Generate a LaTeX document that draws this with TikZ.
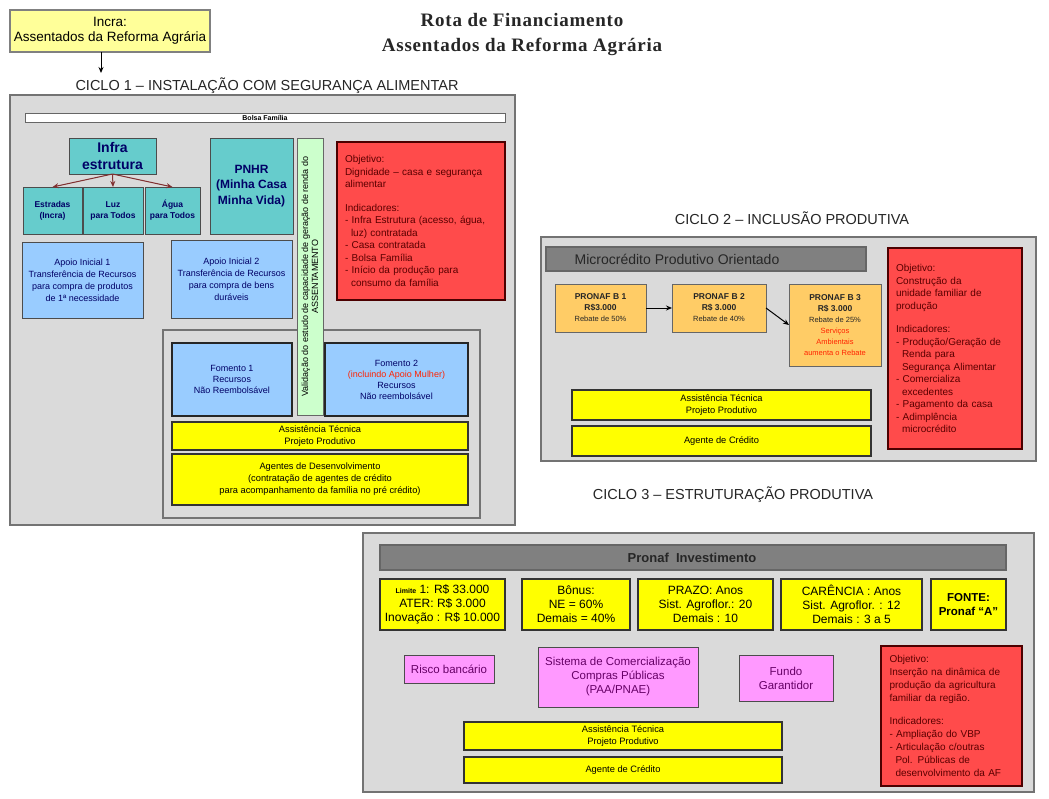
\documentclass[tikz,border=0pt]{standalone}
\usepackage{fontspec}
\setmainfont{Liberation Sans}
\newfontfamily\titlefont[LetterSpace=4]{Liberation Serif}
\usetikzlibrary{arrows.meta}
\definecolor{panelgray}{HTML}{DADADA}
\definecolor{incrayellow}{HTML}{FFFF99}
\definecolor{tealbox}{HTML}{66CCCC}
\definecolor{bluebox}{HTML}{99CCFF}
\definecolor{greenstrip}{HTML}{CCFFCC}
\definecolor{redbox}{HTML}{FF4B4B}
\definecolor{orangebox}{HTML}{FFCC66}
\definecolor{pinkbox}{HTML}{FF99FF}
\definecolor{yellowbox}{HTML}{FFFF00}
\definecolor{darkbar}{HTML}{808080}
\definecolor{navytext}{HTML}{000066}
\definecolor{redtext}{HTML}{5A0000}
\definecolor{purpletext}{HTML}{660066}
\definecolor{alerttext}{HTML}{FF2200}
\definecolor{arrowred}{HTML}{803030}
\newcommand\fs[2]{\fontsize{#1}{#2}\selectfont}
\newcommand\bx[7]{\node[#2, anchor=north west, minimum width={(#5-(#3))*1pt}, minimum height={(#6-(#4))*1pt}] (#1) at (#3,#4) {#7};}
\tikzset{
 box/.style={draw=black!75, line width=0.9pt, inner sep=1pt, outer sep=0pt, align=center},
 panel/.style={box, fill=panelgray, draw=black!55, line width=1.2pt},
 incrabox/.style={box, fill=incrayellow, draw=black!50, line width=1.6pt, font=\fs{13.5}{15}},
 tealb/.style={box, fill=tealbox, draw=black!70, text=navytext},
 blueb/.style={box, fill=bluebox, draw=black!70, text=navytext, font=\fs{9}{12}},
 bluethick/.style={blueb, draw=black!85, line width=1.6pt, font=\fs{9}{11}},
 stripb/.style={box, fill=greenstrip, draw=black!60},
 redb/.style={box, fill=redbox, draw=black!70!red, text=redtext, align=left, line width=1.2pt},
 ylw/.style={box, fill=yellowbox, draw=black!80, line width=1.6pt, font=\fs{9.3}{12}},
 ylwthree/.style={box, fill=yellowbox, draw=black!80, line width=1.2pt, font=\fs{12}{14}},
 orng/.style={box, fill=orangebox, draw=black!60, text=black!85, font=\fs{8.5}{11}},
 pinkb/.style={box, fill=pinkbox, draw=black!70, text=purpletext, font=\fs{11.5}{14}},
 dbar/.style={box, fill=darkbar, draw=black!60, line width=1.5pt},
 bartext/.style={inner sep=0pt, text=black!85},
 ciclo/.style={font=\fs{14.5}{17}, text=black!85, inner sep=0pt},
 conn/.style={-{Stealth[length=6pt,width=5pt]}, line width=1pt},
}
\begin{document}
\begin{tikzpicture}[x=1pt,y=-1pt]
\useasboundingbox (0,0) rectangle (1049,798);
\fill[white] (0,0) rectangle (1049,798);

% title
\node[font=\titlefont\bfseries\fs{19}{25}, align=center, inner sep=0pt, text=black!85] (title) at (522,35) {Rota de Financiamento\\Assentados da Reforma Agrária};

% Incra
\bx{incra}{incrabox}{10}{10}{210}{52}{Incra:\\Assentados da Reforma Agrária}
\coordinate (c1in) at (101,73);
\draw[conn] (incra.south -| c1in) -- (c1in);

% ---------------- CICLO 1
\node[ciclo] (c1title) at (267,86) {CICLO 1 – INSTALAÇÃO COM SEGURANÇA ALIMENTAR};
\bx{c1}{panel}{10}{95}{515}{525}{}
\bx{bolsa}{box, fill=white, draw=black!60, inner sep=0pt, font=\bfseries\fs{7}{7}}{25}{113}{505}{122}{Bolsa Família}

\bx{infra}{tealb, font=\bfseries\fs{14}{17}}{69}{138}{156}{174}{Infra\\estrutura}
\bx{estradas}{tealb, font=\bfseries\fs{8.5}{11}}{23}{187}{82}{234}{Estradas\\(Incra)}
\bx{luz}{tealb, font=\bfseries\fs{8.5}{11}}{83}{187}{143}{234}{Luz\\para Todos}
\bx{agua}{tealb, font=\bfseries\fs{8.5}{11}}{145}{187}{200}{234}{Água\\para Todos}
\draw[conn, draw=arrowred, fill=arrowred] (infra.south) -- (estradas.north);
\draw[conn, draw=arrowred, fill=arrowred] (infra.south) -- (luz.north);
\draw[conn, draw=arrowred, fill=arrowred] (infra.south) -- (agua.north);

\bx{pnhr}{tealb, font=\bfseries\fs{12}{15.5}}{210}{138}{293}{234}{PNHR\\(Minha Casa\\Minha Vida)}

\bx{apoio1}{blueb}{22}{242}{143}{318}{Apoio Inicial 1\\Transferência de Recursos\\para compra de produtos\\de 1ª necessidade}
\bx{apoio2}{blueb}{171}{240}{292}{318}{Apoio Inicial 2\\Transferência de Recursos\\para compra de bens\\duráveis}

\bx{obj1}{redb, text width=152pt, font=\fs{10}{12.5}}{337}{142}{505}{300}{Objetivo:\\Dignidade – casa e segurança\\alimentar\\[11pt]Indicadores:\\- Infra Estrutura (acesso, água,\\\hspace*{6pt}luz) contratada\\- Casa contratada\\- Bolsa Família\\- Início da produção para\\\hspace*{6pt}consumo da família}

\bx{c1inner}{panel}{163}{330}{480}{518}{}
\bx{strip}{stripb}{297}{138}{323}{415}{}
\node[rotate=90, font=\fs{9}{10}, align=center, inner sep=0pt] (striptxt) at (strip.center) {Validação do estudo de capacidade de geração de renda do\\ASSENTAMENTO};

\bx{fom1}{bluethick}{172}{343}{292}{416}{Fomento 1\\Recursos\\Não Reembolsável}
\bx{fom2}{bluethick}{325}{343}{468}{416}{Fomento 2\\\textcolor{alerttext}{(incluindo Apoio Mulher)}\\Recursos\\Não reembolsável}
\bx{at1}{ylw}{172}{422}{468}{450}{Assistência Técnica\\Projeto Produtivo}
\bx{ag1}{ylw}{172}{454}{468}{505}{Agentes de Desenvolvimento\\(contratação de agentes de crédito\\para acompanhamento da família no pré crédito)}

% ---------------- CICLO 2
\node[ciclo] (c2title) at (792,218) {CICLO 2 – INCLUSÃO PRODUTIVA};
\bx{c2}{panel}{541}{237}{1036}{461}{}
\bx{micro}{dbar}{546}{247}{866}{271}{}
\node[bartext, font=\fs{14}{16}] (microtxt) at (677,259) {Microcrédito Produtivo Orientado};

\bx{b1}{orng}{555}{284}{646}{332}{\textbf{PRONAF B 1}\\\textbf{R\$3.000}\\{\fs{7.5}{11}Rebate de 50\%}}
\bx{b2}{orng}{672}{284}{766}{332}{\textbf{PRONAF B 2}\\\textbf{R\$ 3.000}\\{\fs{7.5}{11}Rebate de 40\%}}
\bx{b3}{orng}{789}{284}{881}{366}{\textbf{PRONAF B 3}\\\textbf{R\$ 3.000}\\{\fs{7.5}{11}Rebate de 25\%}\\{\fs{7.5}{11}\color{alerttext}Serviços}\\{\fs{7.5}{11}\color{alerttext}Ambientais}\\{\fs{7.5}{11}\color{alerttext}aumenta o Rebate}}
\draw[conn] (b1.east) -- (b2.west);
\draw[conn] (b2.east) -- (b3.west);

\bx{at2}{ylw, font=\fs{9.3}{11.5}}{572}{390}{871}{420}{Assistência Técnica\\Projeto Produtivo}
\bx{ag2}{ylw}{572}{426}{871}{456}{Agente de Crédito}

\bx{obj2}{redb, text width=118pt, font=\fs{10}{12.5}}{888}{248}{1022}{449}{Objetivo:\\Construção da\\unidade familiar de\\produção\\[11pt]Indicadores:\\- Produção/Geração de\\\hspace*{6pt}Renda para\\\hspace*{6pt}Segurança Alimentar\\- Comercializa\\\hspace*{6pt}excedentes\\- Pagamento da casa\\- Adimplência\\\hspace*{6pt}microcrédito}

% ---------------- CICLO 3
\node[ciclo] (c3title) at (733,495) {CICLO 3 – ESTRUTURAÇÃO PRODUTIVA};
\bx{c3}{panel}{363}{533}{1034}{792}{}
\bx{pinv}{dbar}{380}{545}{1006}{570}{}
\node[bartext, font=\bfseries\fs{13}{15}] (pinvtxt) at (692,557.5) {Pronaf\ \ Investimento};

\bx{limite}{ylwthree}{380}{579}{505}{630}{{\bfseries\fs{7}{14}Limite} 1: R\$ 33.000\\ATER: R\$ 3.000\\Inovação : R\$ 10.000}
\bx{bonus}{ylwthree}{522}{579}{630}{630}{Bônus:\\NE = 60\%\\Demais = 40\%}
\bx{prazo}{ylwthree}{638}{579}{773}{630}{PRAZO: Anos\\Sist. Agroflor.: 20\\Demais : 10}
\bx{carencia}{ylwthree}{781}{579}{922}{630}{CARÊNCIA : Anos\\Sist. Agroflor. : 12\\Demais : 3 a 5}
\bx{fonte}{ylwthree, font=\bfseries\fs{11.5}{14}}{931}{579}{1006}{630}{FONTE:\\Pronaf “A”}

\bx{risco}{pinkb}{404}{655}{494}{683}{Risco bancário}
\bx{sistema}{pinkb}{538}{647}{698}{707}{Sistema de Comercialização\\Compras Públicas\\(PAA/PNAE)}
\bx{fundo}{pinkb}{739}{655}{833}{701}{Fundo\\Garantidor}

\bx{obj3}{redb, text width=124pt, font=\fs{10}{13}}{881}{646}{1022}{786}{Objetivo:\\Inserção na dinâmica de\\produção da agricultura\\familiar da região.\\[10pt]Indicadores:\\- Ampliação do VBP\\- Articulação c/outras\\\hspace*{6pt}Pol. Públicas de\\\hspace*{6pt}desenvolvimento da AF}

\bx{at3}{ylw}{464}{722}{782}{750}{Assistência Técnica\\Projeto Produtivo}
\bx{ag3}{ylw}{464}{757}{782}{783}{Agente de Crédito}
\end{tikzpicture}
\end{document}
